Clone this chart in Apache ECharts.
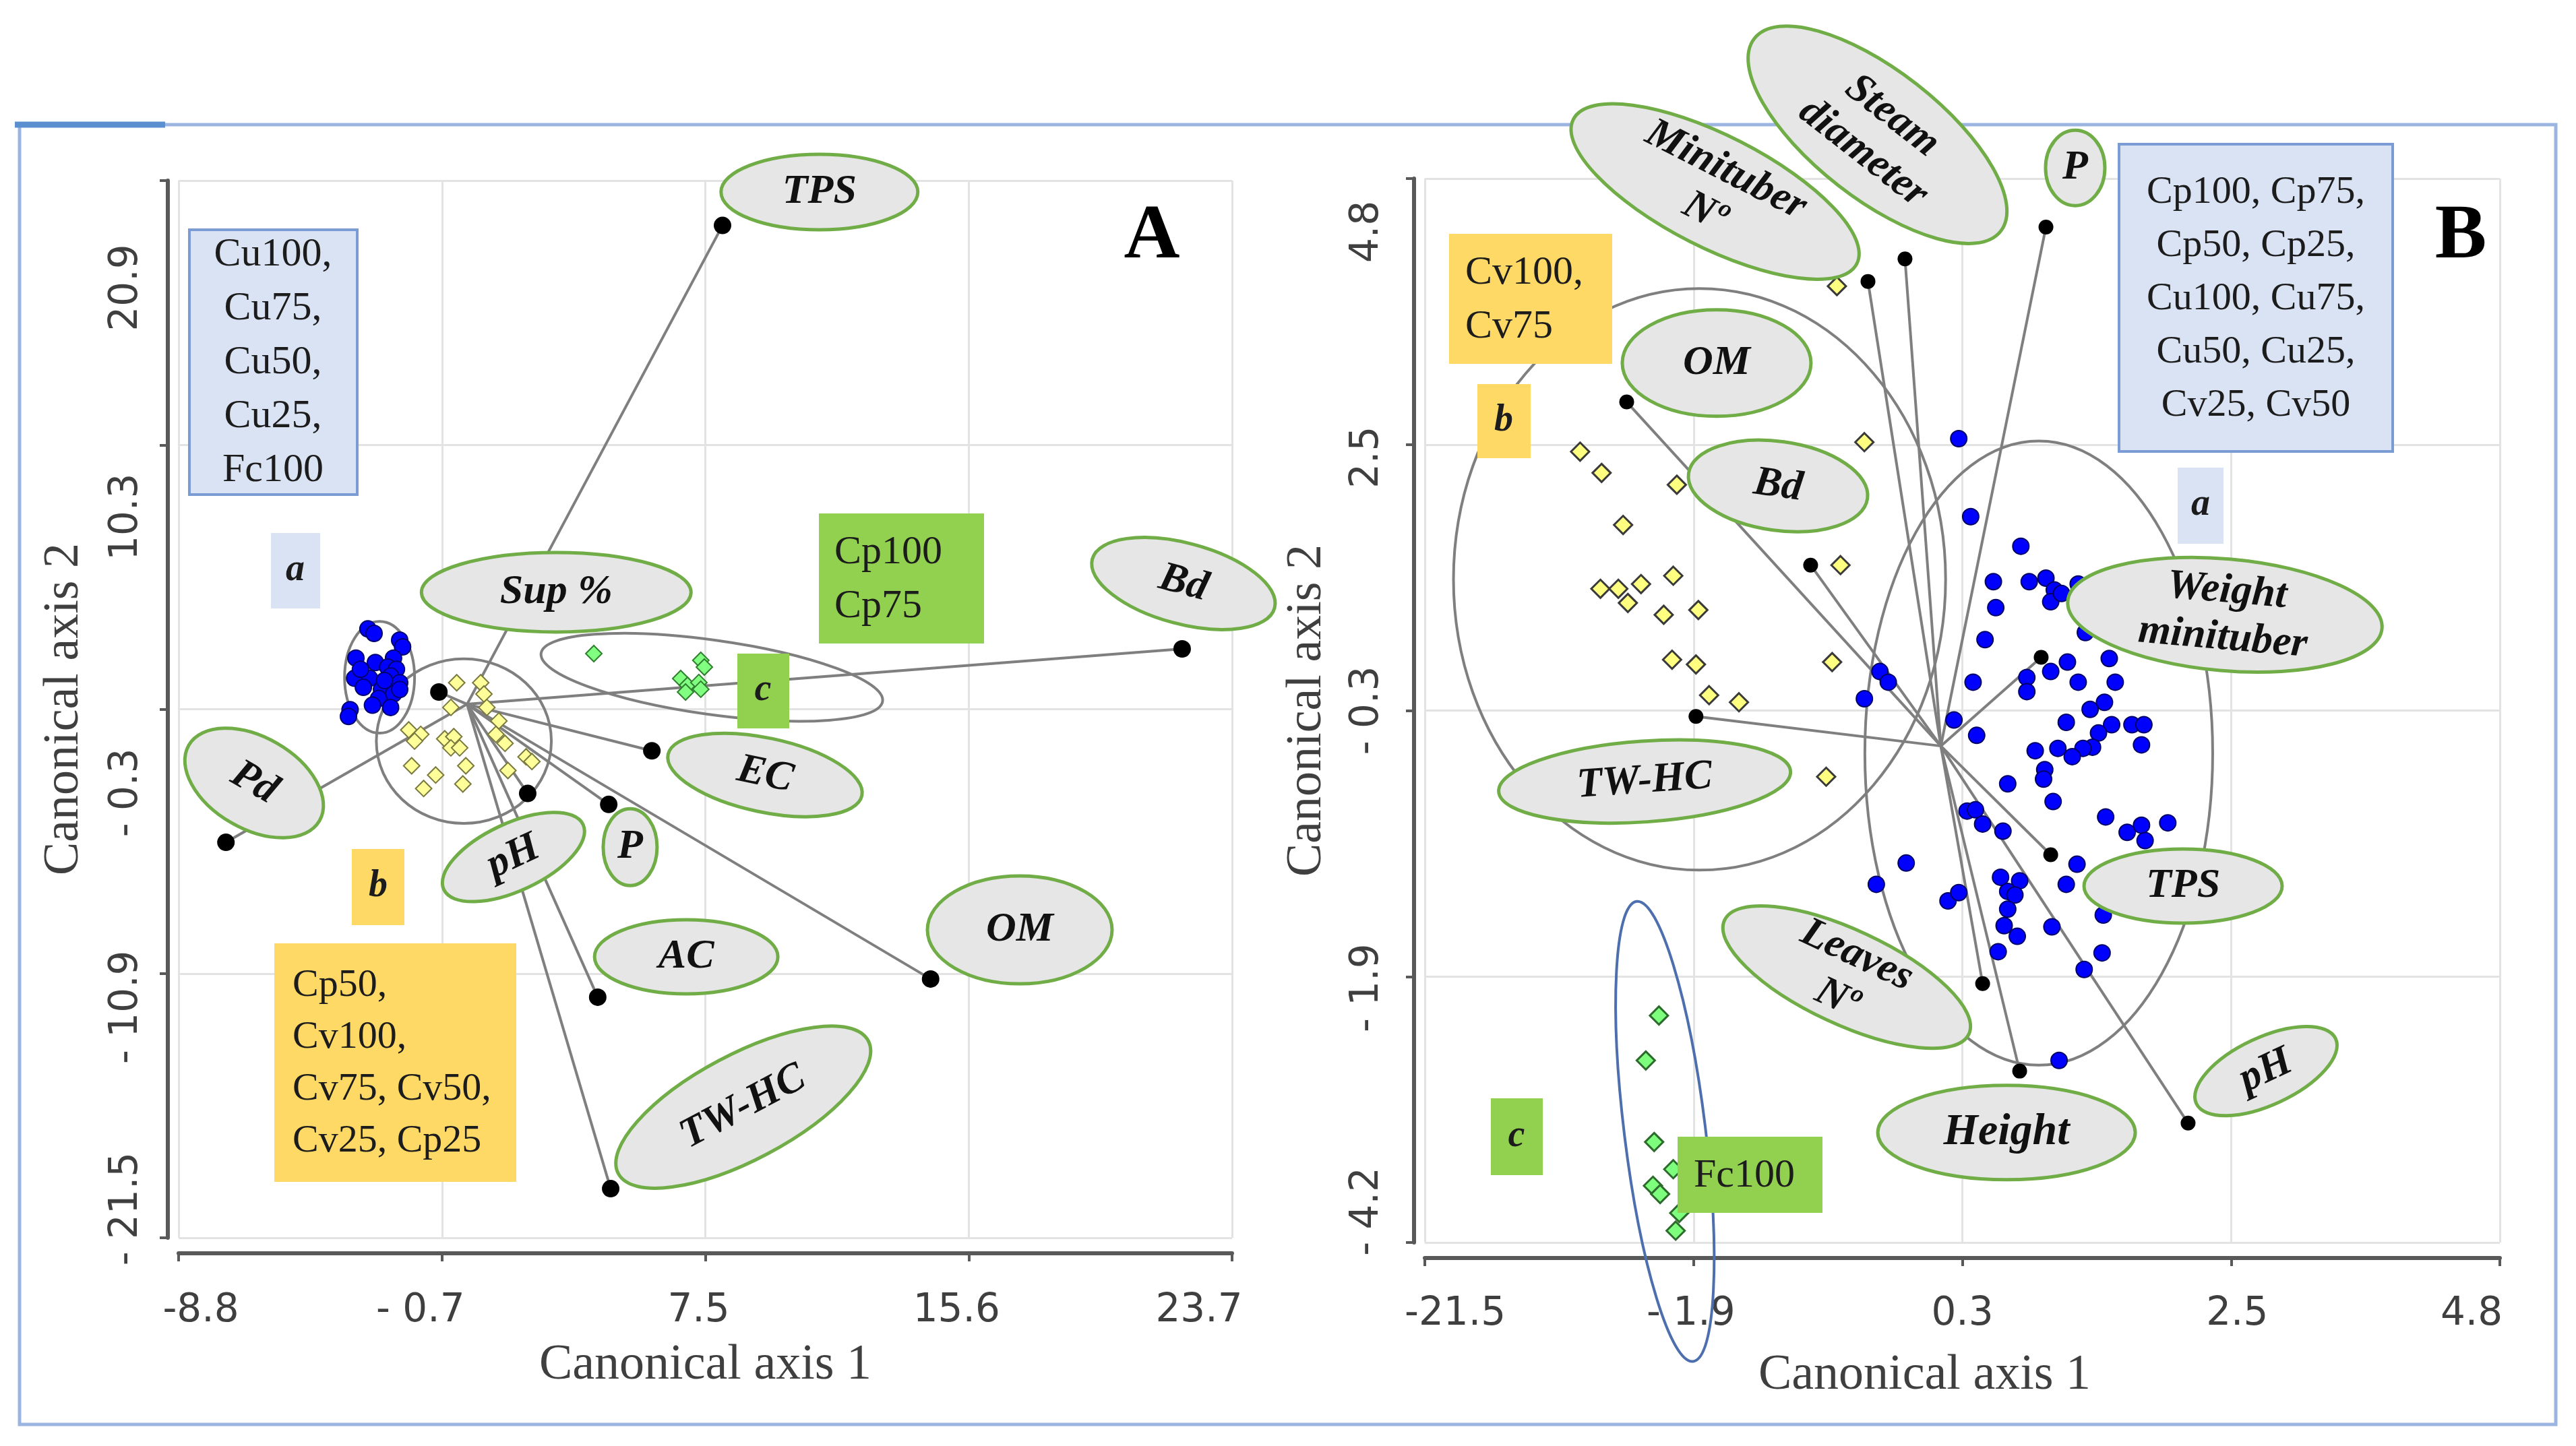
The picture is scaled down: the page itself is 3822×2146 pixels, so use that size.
<!DOCTYPE html>
<html><head><meta charset="utf-8">
<script src="https://cdn.jsdelivr.net/npm/echarts@6/dist/echarts.min.js"></script>
<style>html,body{margin:0;padding:0;background:#fff}#c{width:3822px;height:2146px}</style>
</head><body><div id="c"></div>
<script>
// ===================== DATA =====================
// ---- Panel A ----
const xTicksA = ['-8.8', '- 0.7', '7.5', '15.6', '23.7'];
const yTicksA = ['- 21.5', '- 10.9', '- 0.3', '10.3', '20.9'];
const blueA = [[-2.96,2.92],[-2.77,2.74],[-1.98,2.47],[-1.89,2.20],[-3.33,1.75],[-2.73,1.57],[-2.17,1.75],[-2.35,1.39],[-2.08,1.30],[-3.37,0.94],[-2.91,0.94],[-2.26,1.03],[-1.98,0.76],[-3.10,0.58],[-2.54,0.49],[-2.17,0.31],[-2.63,0.13],[-2.82,-0.14],[-2.26,-0.23],[-3.51,-0.32],[-3.56,-0.59],[-1.98,0.49],[-2.45,0.85],[-3.19,1.30]];
const yellowA = [[-0.22,0.76],[0.52,0.76],[0.62,0.31],[-0.40,-0.23],[0.71,-0.23],[1.08,-0.77],[0.99,-1.31],[1.27,-1.67],[-1.70,-1.13],[-1.33,-1.31],[-1.52,-1.58],[-0.59,-1.49],[-0.31,-1.40],[-0.40,-1.85],[-0.13,-1.85],[0.06,-2.57],[-0.03,-3.30],[-1.61,-2.57],[-0.87,-2.94],[-1.24,-3.48],[1.36,-2.76],[1.92,-2.21],[2.10,-2.40]];
const greenA = [[4.01,1.93],[7.31,1.66],[7.42,1.39],[6.69,0.93],[6.90,0.66],[7.25,0.77],[7.31,0.50],[6.84,0.39]];
const vectorNamesA = ['TPS', 'Sup %', 'Bd', 'EC', 'P', 'pH', 'Pd', 'AC', 'OM', 'TW-HC'];
const vectorEndsA = [[7.98,19.1],[-0.77,0.39],[22.16,2.12],[5.8,-1.97],[4.47,-4.12],[1.97,-3.68],[-7.34,-5.64],[4.13,-11.85],[14.4,-11.12],[4.53,-19.53]];
const originA = [0.1, -0.1];
// group ellipses: [centre x, centre y, semi-axis x, semi-axis y] (data units)
const groupEllA = [[-2.60,0.98,1.08,2.24],[0.0,-1.58,2.70,3.30],[7.65,0.98,5.32,1.49]];
const groupTextA = ['Cu100,\nCu75,\nCu50,\nCu25,\nFc100', 'Cp50,\nCv100,\nCv75, Cv50,\nCv25, Cp25', 'Cp100\nCp75'];

// ---- Panel B ----
const xTicksB = ['-21.5', '- 1.9', '0.3', '2.5', '4.8'];
const yTicksB = ['- 4.2', '- 1.9', '- 0.3', '2.5', '4.8'];
const blueB = [[0.27,2.60],[0.37,1.94],[0.79,1.69],[0.56,1.39],[0.58,1.17],[0.49,0.90],[0.86,1.39],[1.00,1.42],[1.07,1.32],[1.04,1.22],[1.13,1.29],[1.27,1.37],[1.33,0.96],[1.18,0.71],[1.04,0.63],[0.84,0.58],[0.84,0.46],[1.27,0.54],[1.53,0.74],[1.58,0.54],[1.37,0.31],[1.49,0.37],[1.17,0.20],[1.55,0.18],[1.72,0.18],[1.82,0.18],[1.80,0.01],[1.44,0.11],[1.39,-0.01],[1.31,-0.02],[1.22,-0.09],[1.10,-0.02],[0.91,-0.04],[0.99,-0.20],[0.98,-0.28],[1.06,-0.47],[0.68,-0.32],[0.39,0.54],[-0.52,0.40],[-0.39,0.63],[-0.32,0.54],[0.23,0.22],[0.42,0.09],[0.34,-0.55],[0.41,-0.54],[0.47,-0.66],[0.64,-0.72],[1.50,-0.60],[1.68,-0.73],[1.80,-0.67],[1.83,-0.80],[2.02,-0.65],[1.26,-1.00],[1.17,-1.17],[-0.17,-0.99],[-0.42,-1.17],[0.18,-1.31],[0.27,-1.24],[0.62,-1.11],[0.68,-1.23],[0.78,-1.14],[0.74,-1.26],[0.68,-1.38],[0.65,-1.52],[0.76,-1.61],[1.05,-1.53],[1.48,-1.43],[1.47,-1.75],[1.32,-1.89],[0.60,-1.74],[1.11,-2.66]];
const yellowB = [[-0.75,3.89],[-2.90,2.49],[-2.72,2.31],[-2.09,2.21],[-0.52,2.57],[-2.54,1.87],[-2.73,1.33],[-2.58,1.33],[-2.50,1.21],[-2.39,1.37],[-2.12,1.44],[-2.20,1.11],[-1.91,1.15],[-0.72,1.53],[-2.13,0.73],[-1.93,0.69],[-1.82,0.43],[-1.57,0.37],[-0.79,0.71],[-0.84,-0.26]];
const greenB = [[-2.24,-2.28],[-2.35,-2.66],[-2.28,-3.35],[-2.12,-3.58],[-2.29,-3.72],[-2.23,-3.79],[-2.07,-3.95],[-2.10,-4.10]];
const vectorNamesB = ['Minituber\nNº', 'Steam\ndiameter', 'P', 'OM', 'Bd', 'TW-HC', 'Weight\nminituber', 'TPS', 'Leaves\nNº', 'Height', 'pH'];
const vectorEndsB = [[-0.49,3.93],[-0.18,4.12],[1.00,4.39],[-2.51,2.91],[-0.97,1.53],[-1.93,0.25],[0.96,0.75],[1.04,-0.92],[0.47,-2.01],[0.78,-2.75],[2.19,-3.19]];
const originB = [0.12, 0.0];
const groupEllB = [[-1.90,1.41,2.06,2.46],[0.94,-0.06,1.456,2.64],[-2.19,-3.26,0.34,1.96]];
const groupTextB = ['Cp100, Cp75,\nCp50, Cp25,\nCu100, Cu75,\nCu50, Cu25,\nCv25, Cv50', 'Cv100,\nCv75', 'Fc100'];
const groupLetters = ['a', 'b', 'c'];

// ===================== LAYOUT / STYLE =====================
const serif = '"Liberation Serif", "DejaVu Serif", serif';
const sans = '"DejaVu Sans", sans-serif';
const axisMinA = {x: -8.8, y: -21.5}, axisMaxA = {x: 23.7, y: 20.9}, intA = {x: 8.125, y: 10.6};
const axisMinB = {x: -4.2, y: -4.2}, axisMaxB = {x: 4.8, y: 4.8}, intB = {x: 2.25, y: 2.25};
// per-label nudges (px) copying the hand-placed tick labels of the source
const xShiftA = [33, -32, -10, -18, -49], yShiftA = [-43, 50, 124, 107, 159];
const xShiftB = [45, -4, 0, 9, -42], yShiftB = [-46, 17, 0, 19, 79];
// callout positions (data coords) and shapes (px)
const calloutPosA = [[10.97,20.44],[2.85,4.39],[22.2,4.74],[9.29,-2.94],[5.13,-5.83],[1.53,-6.23],[-6.47,-3.26],[6.86,-10.23],[17.15,-9.15],[8.62,-16.26]];
const calloutShapeA = [[146,56,0],[200,59,0],[140,60,-15],[147,55,-12],[40,57,0],[114,50,25],[112,68,-30],[136,55,0],[137,80,0],[210,78,28]];
const calloutPosB = [[-1.77,4.69],[-0.41,5.17],[1.245,4.89],[-1.757,3.24],[-1.243,2.20],[-2.36,-0.30],[2.498,1.11],[2.148,-1.185],[-0.668,-1.955],[0.67,-3.27],[2.842,-2.75]];
const calloutShapeB = [[236,83,-27],[232,95,-38],[44,56,0],[140,79,0],[134,66,-8],[217,60,4],[234,83,-5],[147,55,0],[200,70,-25],[191,70,0],[114,50,25]];
const groupRotA = [0, 0, -8], groupRotB = [0, 0, 7];
const groupStrokeA = ['#7f7f7f', '#7f7f7f', '#7f7f7f'], groupStrokeB = ['#7f7f7f', '#7f7f7f', '#4d6fae'];

function tickRich(shifts, horizontal) {
  const r = {};
  shifts.forEach((d, i) => {
    const p = horizontal ? (d >= 0 ? [0, 0, 0, 2 * d] : [0, -2 * d, 0, 0])
                         : (d >= 0 ? [0, 2 * d, 0, 0] : [0, 0, 0, -2 * d]);
    r['t' + i] = {padding: p, fontSize: 58, fontFamily: sans, color: '#3f3f3f'};
  });
  return r;
}
function tickFmt(ticks, min, interval) {
  return function (v) {
    const i = Math.round((v - min) / interval);
    return (i >= 0 && i < ticks.length) ? '{t' + i + '|' + ticks[i] + '}' : '';
  };
}
function axisBase(o) {
  return Object.assign({
    type: 'value',
    axisLine: {show: true, onZero: false, lineStyle: {color: '#595959', width: 6}},
    axisTick: {show: true, length: 12, lineStyle: {color: '#595959', width: 4}},
    splitLine: {show: true, lineStyle: {color: '#e3e3e3', width: 3}},
    nameLocation: 'middle',
    nameTextStyle: {fontSize: 74, fontFamily: serif, color: '#3f3f3f'}
  }, o);
}
function groupEllipse(rots, strokes) {
  return function (params, api) {
    const i = params.dataIndex;
    const c = api.coord([api.value(0), api.value(1)]);
    const s = api.size([api.value(2), api.value(3)]);
    return {type: 'ellipse', x: c[0], y: c[1], rotation: rots[i] * Math.PI / 180,
      shape: {cx: 0, cy: 0, rx: s[0], ry: s[1]},
      style: {fill: 'none', stroke: strokes[i], lineWidth: 4}};
  };
}
function callout(shapes, names) {
  return function (params, api) {
    const i = params.dataIndex;
    const c = api.coord([api.value(0), api.value(1)]);
    const s = shapes[i];
    const fs = names[i] === 'Height' ? 66 : 62;
    return {type: 'group', x: c[0], y: c[1], rotation: s[2] * Math.PI / 180, children: [
      {type: 'ellipse', shape: {cx: 0, cy: 0, rx: s[0], ry: s[1]}, style: {fill: '#e7e6e6', stroke: '#70ad47', lineWidth: 5}},
      {type: 'text', style: {text: names[i], x: 0, y: 0, align: 'center', verticalAlign: 'middle',
        fontSize: fs, fontFamily: serif, fontStyle: 'italic', fontWeight: 'bold', lineHeight: 70, fill: '#111'}}
    ]};
  };
}
function box(x, y, w, h, fill, stroke) {
  return {type: 'rect', z: 10, shape: {x: x, y: y, width: w, height: h},
    style: {fill: fill, stroke: stroke || null, lineWidth: stroke ? 4 : 0}};
}
function txt(x, y, text, o) {
  return {type: 'text', z: 11, x: x, y: y, style: Object.assign({text: text, align: 'center', verticalAlign: 'middle',
    fontSize: 60, fontFamily: serif, fill: '#1c1c1c', lineHeight: 80}, o || {})};
}
function letter(x, y, t) {
  return txt(x, y, t, {fontSize: 56, fontStyle: 'italic', fontWeight: 'bold', lineHeight: 60});
}

const blueC = '#d9e3f3', blueS = '#7b9bd4', yelC = '#ffd966', grnC = '#92d050';

const option = {
  animation: false,
  backgroundColor: '#fff',
  grid: [
    {left: 265, top: 268, width: 1563, height: 1569},
    {left: 2114, top: 265, width: 1595, height: 1579}
  ],
  xAxis: [
    axisBase({gridIndex: 0, min: axisMinA.x, max: axisMaxA.x, interval: intA.x, offset: 23,
      name: 'Canonical axis 1', nameGap: 130,
      axisLabel: {margin: 57, showMinLabel: true, showMaxLabel: true, formatter: tickFmt(xTicksA, axisMinA.x, intA.x), rich: tickRich(xShiftA, true)}}),
    axisBase({gridIndex: 1, min: axisMinB.x, max: axisMaxB.x, interval: intB.x, offset: 23,
      name: 'Canonical axis 1', nameGap: 138,
      nameTextStyle: {fontSize: 74, fontFamily: serif, color: '#3f3f3f', padding: [0, 112, 0, 0]},
      axisLabel: {margin: 55, showMinLabel: true, showMaxLabel: true, formatter: tickFmt(xTicksB, axisMinB.x, intB.x), rich: tickRich(xShiftB, true)}})
  ],
  yAxis: [
    axisBase({gridIndex: 0, min: axisMinA.y, max: axisMaxA.y, interval: intA.y, offset: 16,
      name: 'Canonical axis 2', nameGap: 116,
      axisLabel: {rotate: 90, margin: 32, showMinLabel: true, showMaxLabel: true, formatter: tickFmt(yTicksA, axisMinA.y, intA.y), rich: tickRich(yShiftA, false)}}),
    axisBase({gridIndex: 1, min: axisMinB.y, max: axisMaxB.y, interval: intB.y, offset: 16,
      name: 'Canonical axis 2', nameGap: 121,
      axisLabel: {rotate: 90, margin: 40, showMinLabel: true, showMaxLabel: true, formatter: tickFmt(yTicksB, axisMinB.y, intB.y), rich: tickRich(yShiftB, false)}})
  ],
  series: [
    // ---- panel A ----
    {type: 'custom', xAxisIndex: 0, yAxisIndex: 0, z: 2, silent: true, clip: false,
      renderItem: groupEllipse(groupRotA, groupStrokeA), encode: {x: 0, y: 1}, data: groupEllA},
    {type: 'lines', coordinateSystem: 'cartesian2d', xAxisIndex: 0, yAxisIndex: 0, z: 3, silent: true,
      lineStyle: {color: '#7f7f7f', width: 4, opacity: 1},
      data: vectorEndsA.map(e => ({coords: [originA, e]}))},
    {type: 'scatter', xAxisIndex: 0, yAxisIndex: 0, z: 4, symbol: 'circle', symbolSize: 24,
      itemStyle: {color: '#0000ff', borderColor: '#000070', borderWidth: 2, opacity: 1}, data: blueA},
    {type: 'scatter', xAxisIndex: 0, yAxisIndex: 0, z: 4, symbol: 'diamond', symbolSize: 24,
      itemStyle: {color: '#ffff99', borderColor: '#7a7a40', borderWidth: 2, opacity: 1}, data: yellowA},
    {type: 'scatter', xAxisIndex: 0, yAxisIndex: 0, z: 4, symbol: 'diamond', symbolSize: 24,
      itemStyle: {color: '#80ff80', borderColor: '#2f7f2f', borderWidth: 2, opacity: 1}, data: greenA},
    {type: 'scatter', xAxisIndex: 0, yAxisIndex: 0, z: 5, symbol: 'circle', symbolSize: 26,
      itemStyle: {color: '#000', opacity: 1}, data: vectorEndsA},
    {type: 'custom', xAxisIndex: 0, yAxisIndex: 0, z: 6, silent: true, clip: false,
      renderItem: callout(calloutShapeA, vectorNamesA), encode: {x: 0, y: 1}, data: calloutPosA},
    // ---- panel B ----
    {type: 'custom', xAxisIndex: 1, yAxisIndex: 1, z: 2, silent: true, clip: false,
      renderItem: groupEllipse(groupRotB, groupStrokeB), encode: {x: 0, y: 1}, data: groupEllB},
    {type: 'lines', coordinateSystem: 'cartesian2d', xAxisIndex: 1, yAxisIndex: 1, z: 3, silent: true,
      lineStyle: {color: '#7f7f7f', width: 4, opacity: 1},
      data: vectorEndsB.map(e => ({coords: [originB, e]}))},
    {type: 'scatter', xAxisIndex: 1, yAxisIndex: 1, z: 4, symbol: 'circle', symbolSize: 24,
      itemStyle: {color: '#0000ff', borderColor: '#000066', borderWidth: 2, opacity: 1}, data: blueB},
    {type: 'scatter', xAxisIndex: 1, yAxisIndex: 1, z: 4, symbol: 'diamond', symbolSize: 27,
      itemStyle: {color: '#ffff80', borderColor: '#3a3a3a', borderWidth: 3, opacity: 1}, data: yellowB},
    {type: 'scatter', xAxisIndex: 1, yAxisIndex: 1, z: 4, symbol: 'diamond', symbolSize: 27,
      itemStyle: {color: '#7dff7d', borderColor: '#2d6b2d', borderWidth: 3, opacity: 1}, data: greenB},
    {type: 'scatter', xAxisIndex: 1, yAxisIndex: 1, z: 5, symbol: 'circle', symbolSize: 22,
      itemStyle: {color: '#000', opacity: 1}, data: vectorEndsB},
    {type: 'custom', xAxisIndex: 1, yAxisIndex: 1, z: 6, silent: true, clip: false,
      renderItem: callout(calloutShapeB, vectorNamesB), encode: {x: 0, y: 1}, data: calloutPosB}
  ],
  graphic: {elements: [
    {type: 'rect', z: 1, silent: true, shape: {x: 29, y: 185, width: 3763, height: 1929}, style: {fill: 'none', stroke: '#9bb5e0', lineWidth: 5}},
    {type: 'line', z: 1, silent: true, shape: {x1: 22, y1: 185, x2: 245, y2: 185}, style: {stroke: '#5b8fd0', lineWidth: 9}},
    // panel A boxes
    box(281, 341, 249, 393, blueC, blueS), txt(405, 538, groupTextA[0]),
    box(402, 791, 73, 112, blueC), letter(438, 847, groupLetters[0]),
    box(522, 1260, 78, 113, yelC), letter(561, 1316, groupLetters[1]),
    box(407, 1400, 359, 354, yelC), txt(434, 1578, groupTextA[1], {align: 'left', fontSize: 58, lineHeight: 77}),
    box(1215, 762, 245, 193, grnC), txt(1238, 860, groupTextA[2], {align: 'left'}),
    box(1094, 970, 77, 111, grnC), letter(1132, 1025, groupLetters[2]),
    txt(1709, 352, 'A', {fontSize: 115, fontWeight: 'bold', fill: '#000', lineHeight: 120}),
    // panel B boxes
    box(3144, 214, 406, 456, blueC, blueS), txt(3347, 444, groupTextB[0], {fontSize: 58, lineHeight: 79}),
    box(3231, 694, 68, 113, blueC), letter(3265, 750, groupLetters[0]),
    box(2150, 347, 242, 193, yelC), txt(2174, 445, groupTextB[1], {align: 'left'}),
    box(2192, 570, 79, 110, yelC), letter(2231, 625, groupLetters[1]),
    box(2212, 1630, 77, 114, grnC), letter(2250, 1687, groupLetters[2]),
    box(2489, 1687, 215, 113, grnC), txt(2513, 1745, groupTextB[2], {align: 'left'}),
    txt(3651, 352, 'B', {fontSize: 115, fontWeight: 'bold', fill: '#000', lineHeight: 120})
  ]}
};

const chart = echarts.init(document.getElementById('c'), null, {renderer: 'canvas', width: 3822, height: 2146});
chart.setOption(option);
</script>
</body></html>
